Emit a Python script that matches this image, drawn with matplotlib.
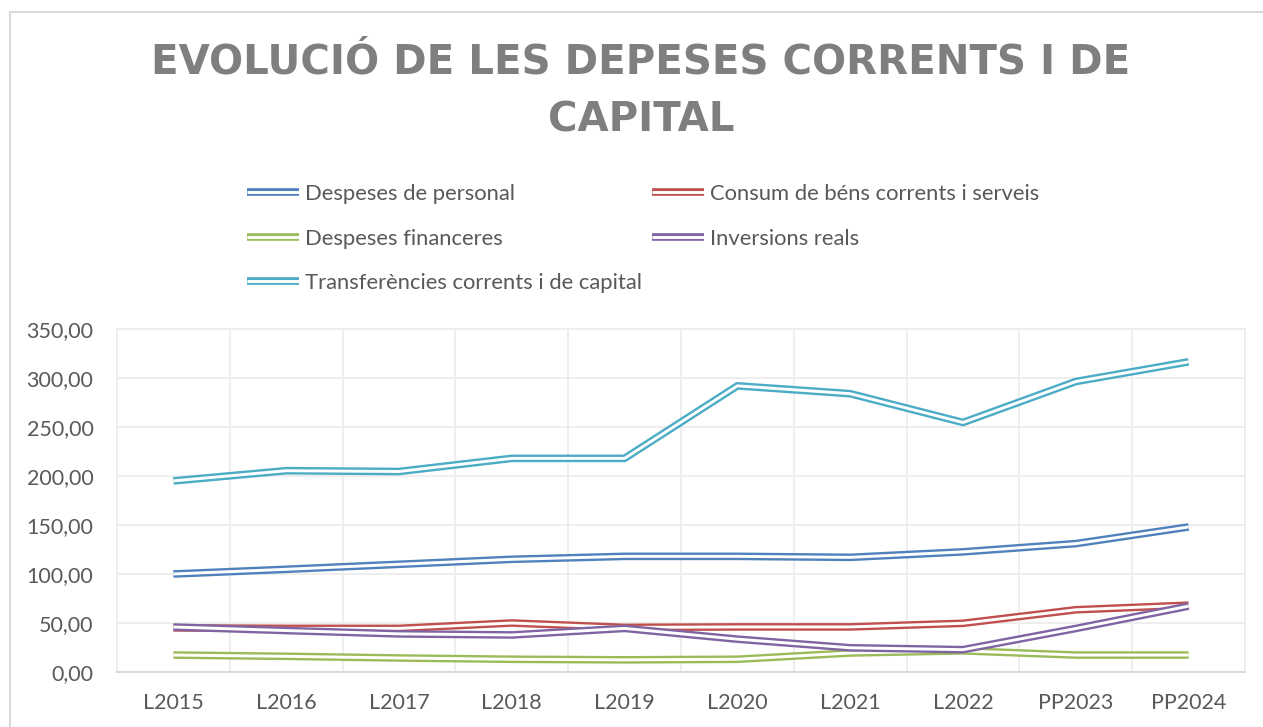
import matplotlib
matplotlib.use("Agg")
import matplotlib.pyplot as plt
import matplotlib.patheffects as pe
from matplotlib.patches import Rectangle
from matplotlib.ticker import FuncFormatter, MultipleLocator, FixedLocator

# ---- data ----
categories = ['L2015', 'L2016', 'L2017', 'L2018', 'L2019', 'L2020', 'L2021', 'L2022', 'PP2023', 'PP2024']
despeses_personal = [100.0, 104.8, 109.9, 115.0, 118.0, 118.0, 117.0, 122.6, 131.0, 148.0]
consum_bens = [45.0, 44.5, 44.5, 50.0, 45.5, 46.0, 46.0, 49.7, 63.5, 68.2]
despeses_financeres = [17.3, 16.0, 14.3, 13.0, 12.4, 13.0, 19.4, 21.6, 17.3, 17.3]
inversions_reals = [45.9, 42.3, 38.9, 37.8, 44.5, 33.5, 24.7, 22.8, 44.4, 67.2]
transferencies = [195.0, 205.4, 204.6, 218.0, 218.0, 292.0, 284.0, 254.6, 296.4, 316.5]

series_names = ['Despeses de personal', 'Consum de béns corrents i serveis',
                'Despeses financeres', 'Inversions reals',
                'Transferències corrents i de capital']
series_values = [despeses_personal, consum_bens, despeses_financeres,
                 inversions_reals, transferencies]
series_colors = ['#4f81bd', '#c0504d', '#9bbb59', '#8064a2', '#4bacc6']

title_lines = ['EVOLUCIÓ DE LES DEPESES CORRENTS I DE', 'CAPITAL']

W, H = 1263, 727
fig = plt.figure(figsize=(W / 100, H / 100), dpi=100)
fig.patch.set_facecolor('white')

# outer chart border (left/top visible)
fig.add_artist(Rectangle((10 / W, -0.5), 2.0, 1.5 - 12 / H, transform=fig.transFigure,
                         fill=False, edgecolor='#d9d9d9', linewidth=1.5, clip_on=False))

ax = fig.add_axes([117 / W, 1 - 672 / H, (1245 - 117) / W, (672 - 329) / H])
x = list(range(len(categories)))

TXT = '#595959'
for name, vals, col in zip(series_names, series_values, series_colors):
    ax.plot(x, vals, color='white', linewidth=2.1, label=name,
            solid_joinstyle='round', solid_capstyle='butt',
            path_effects=[pe.Stroke(linewidth=5.5, foreground=col, capstyle='butt'), pe.Normal()])

ax.set_xlim(-0.5, len(categories) - 0.5)
ax.set_ylim(0, 350)
ax.yaxis.set_major_locator(MultipleLocator(50))
ax.yaxis.set_major_formatter(FuncFormatter(lambda v, p: f"{v:.2f}".replace('.', ',')))
ax.set_xticks(x)
ax.set_xticklabels(categories)
ax.xaxis.set_minor_locator(FixedLocator([i - 0.5 for i in range(len(categories) + 1)]))
ax.grid(True, which='major', axis='y', color='#eeeeee', linewidth=1.4)
ax.grid(True, which='minor', axis='x', color='#eeeeee', linewidth=1.4)
ax.set_axisbelow(True)
for s in ['top', 'right', 'left']:
    ax.spines[s].set_color('#eeeeee')
    ax.spines[s].set_linewidth(1.4)
ax.spines['bottom'].set_color('#d9d9d9')
ax.spines['bottom'].set_linewidth(1.4)
ax.tick_params(axis='both', which='both', length=0, labelsize=15.5, labelcolor=TXT)
ax.tick_params(axis='y', pad=17)
ax.tick_params(axis='x', pad=15)
for lab in ax.get_xticklabels() + ax.get_yticklabels():
    lab.set_fontfamily('Lato')

# title
for line, ypx in zip(title_lines, [63, 121]):
    fig.text(641 / W, 1 - ypx / H, line, ha='center', va='center',
             fontsize=29, fontweight='bold', color='#7f7f7f', family='DejaVu Sans')

# legend: two columns, row-wise order
handles, labels = ax.get_legend_handles_labels()
col1 = [0, 2, 4]
col2 = [1, 3]
common = dict(frameon=False, loc='upper left', borderpad=0, borderaxespad=0,
              handlelength=2.35, handletextpad=0.28, labelspacing=1.12,
              prop={'family': 'Lato', 'size': 15.8}, labelcolor=TXT)
leg1 = fig.legend([handles[i] for i in col1], [labels[i] for i in col1],
                  bbox_to_anchor=(247 / W, 1 - 184 / H), **common)
leg2 = fig.legend([handles[i] for i in col2], [labels[i] for i in col2],
                  bbox_to_anchor=(652 / W, 1 - 184 / H), **common)

fig.savefig('out.png', dpi=100, facecolor='white')
